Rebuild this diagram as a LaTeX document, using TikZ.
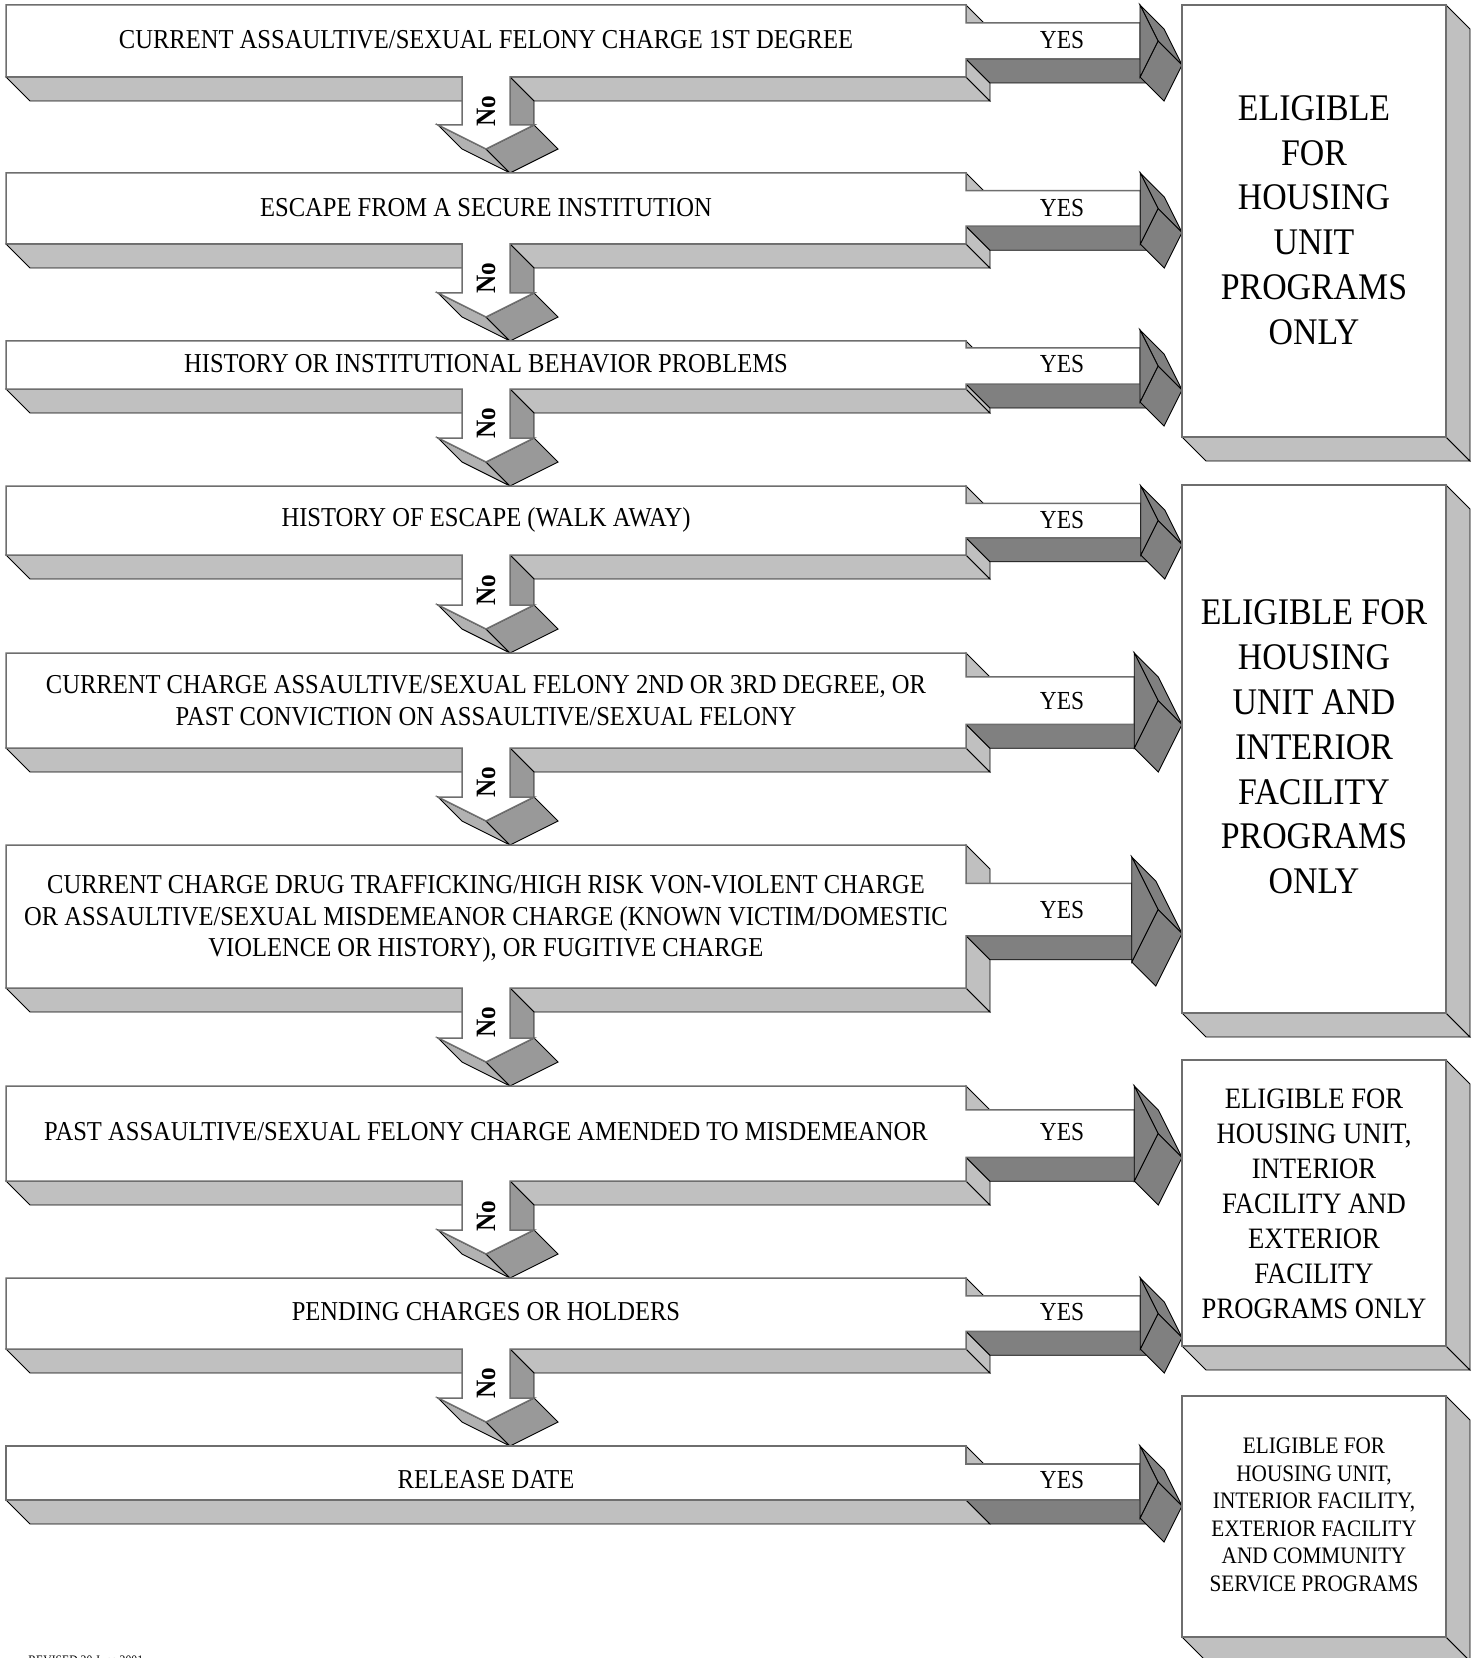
\documentclass[tikz,border=0pt]{standalone}
\usepackage{fontspec}
\setmainfont{Liberation Serif}[FakeStretch=0.9]
\definecolor{facelight}{HTML}{C0C0C0}
\definecolor{facemid}{HTML}{999999}
\definecolor{facewing}{HTML}{B2B2B2}
\definecolor{facedark}{HTML}{808080}
\definecolor{frontline}{HTML}{6E6E6E}
\tikzset{
  side/.style={draw=black, line width=0.45pt, line join=miter},
  front/.style={fill=white, draw=frontline, line width=0.75pt, line join=miter},
  rowtext/.style={font=\fontsize{13.65}{15.85}\selectfont, align=center, inner sep=0pt},
  yestext/.style={font=\fontsize{13}{15}\selectfont, inner sep=0pt},
  notext/.style={font=\bfseries\fontsize{14}{16}\selectfont, rotate=90, inner sep=0pt},
  bigtext/.style={font=\fontsize{18.8}{22.4}\selectfont, align=center, inner sep=0pt},
  midtext/.style={font=\fontsize{14.8}{17.5}\selectfont, align=center, inner sep=0pt},
  smalltext/.style={font=\fontsize{11.8}{13.75}\selectfont, align=center, inner sep=0pt},
}
% #1 box top, #2 box bottom, #3 arrow top barb, #4 arrow bottom barb, #5 next row top (0 = none)
\newcommand{\mkrow}[5]{%
  \pgfmathsetmacro\rT{#1}\pgfmathsetmacro\rB{#2}%
  \pgfmathsetmacro\rBf{#2+24}\pgfmathsetmacro\rTf{#1+24}%
  \pgfmathsetmacro\rH{#4-#3}%
  \pgfmathsetmacro\rsA{#3+0.25*\rH}\pgfmathsetmacro\rsB{#4-0.25*\rH}%
  \pgfmathsetmacro\rsAf{\rsA+24}\pgfmathsetmacro\rsBf{\rsB+24}%
  \pgfmathsetmacro\rbx{1158-0.25*\rH}\pgfmathsetmacro\rbxf{\rbx+24}%
  \pgfmathsetmacro\rty{(#3+#4)/2}\pgfmathsetmacro\rtyf{\rty+24}%
  \pgfmathsetmacro\raAf{#3+24}\pgfmathsetmacro\raBf{#4+24}%
  \ifnum#5>0
    \pgfmathsetmacro\ryb{#5-48}\pgfmathsetmacro\rybf{#5-24}%
    \path[side,fill=facelight] (6,\rB) -- (462,\rB) -- (486,\rBf) -- (30,\rBf) -- cycle;
    \path[side,fill=facelight] (510,\rB) -- (966,\rB) -- (990,\rBf) -- (534,\rBf) -- cycle;
    \path[side,fill=facemid] (510,\rB) -- (534,\rBf) -- (534,\rybf) -- (510,\ryb) -- cycle;
    \path[side,fill=facewing] (438,\ryb) -- (486,\rybf) -- (510,#5) -- (462,\rybf) -- cycle;
    \path[side,fill=facemid] (486,\rybf) -- (534,\ryb) -- (558,\rybf) -- (510,#5) -- cycle;
  \else
    \path[side,fill=facelight] (6,\rB) -- (966,\rB) -- (990,\rBf) -- (30,\rBf) -- cycle;
  \fi
  \path[side,fill=facelight] (966,\rT) -- (990,\rTf) -- (990,\rsAf) -- (966,\rsA) -- cycle;
  \ifdim\rsB pt<\rB pt
    \path[side,fill=facelight] (966,\rsB) -- (990,\rsBf) -- (990,\rBf) -- (966,\rB) -- cycle;
  \fi
  \path[side,fill=facedark] (966,\rsB) -- (\rbx,\rsB) -- (\rbxf,\rsBf) -- (990,\rsBf) -- cycle;
  \path[side,fill=facedark] (\rbx,#3) -- (1158,\rty) -- (1182,\rtyf) -- (\rbxf,\raAf) -- cycle;
  \path[side,fill=facedark] (\rbx,#4) -- (1158,\rty) -- (1182,\rtyf) -- (\rbxf,\raBf) -- cycle;
  \ifnum#5>0
    \path[front] (6,\rT) -- (966,\rT) -- (966,\rsA) -- (\rbx,\rsA) -- (\rbx,\rsB) -- (966,\rsB)
      -- (966,\rB) -- (510,\rB) -- (510,\ryb) -- (534,\ryb) -- (486,\rybf) -- (438,\ryb)
      -- (462,\ryb) -- (462,\rB) -- (6,\rB) -- cycle;
  \else
    \path[front] (6,\rT) -- (966,\rT) -- (966,\rsA) -- (\rbx,\rsA) -- (\rbx,\rsB) -- (966,\rsB)
      -- (966,\rB) -- (6,\rB) -- cycle;
  \fi
  \path[side,fill=facedark] (\rbx,#3) -- (1158,\rty) -- (\rbx,#4) -- cycle;
}
% right result boxes: #1 top, #2 bottom
\newcommand{\mkbox}[2]{%
  \pgfmathsetmacro\qB{#2}\pgfmathsetmacro\qBf{#2+24}\pgfmathsetmacro\qTf{#1+24}%
  \path[side,fill=facelight] (1182,\qB) -- (1446,\qB) -- (1470,\qBf) -- (1206,\qBf) -- cycle;
  \path[side,fill=facelight] (1446,#1) -- (1470,\qTf) -- (1470,\qBf) -- (1446,\qB) -- cycle;
  \path[front] (1182,#1) rectangle (1446,\qB);
}
\begin{document}
\begin{tikzpicture}[x=0.5pt,y=-0.5pt]
\useasboundingbox (0,0) rectangle (1477,1658);
\clip (0,0) rectangle (1477,1658);
\mkrow{5}{77}{5}{77}{173}
\mkrow{173}{244}{173}{244}{341}
\mkrow{341}{389}{330}{402}{486}
\mkrow{486}{555}{486}{555}{653}
\mkrow{653}{748}{653}{748}{845}
\mkrow{845}{988}{857}{962}{1086}
\mkrow{1086}{1181}{1086}{1181}{1278}
\mkrow{1278}{1349}{1278}{1349}{1446}
\mkrow{1446}{1500}{1446}{1518}{0}
\mkbox{5}{437}
\mkbox{485}{1013}
\mkbox{1060}{1346}
\mkbox{1396}{1637}
% row texts
\node[rowtext] (t1) at (486,40) {CURRENT ASSAULTIVE/SEXUAL FELONY CHARGE 1ST DEGREE};
\node[rowtext] (t2) at (486,208) {ESCAPE FROM A SECURE INSTITUTION};
\node[rowtext] (t3) at (486,364) {HISTORY OR INSTITUTIONAL BEHAVIOR PROBLEMS};
\node[rowtext] (t4) at (486,520) {HISTORY OF ESCAPE (WALK AWAY)};
\node[rowtext] (t5) at (486,701) {CURRENT CHARGE ASSAULTIVE/SEXUAL FELONY 2ND OR 3RD DEGREE, OR\\PAST CONVICTION ON ASSAULTIVE/SEXUAL FELONY};
\node[rowtext] (t6) at (486,919) {CURRENT CHARGE DRUG TRAFFICKING/HIGH RISK VON-VIOLENT CHARGE\\OR ASSAULTIVE/SEXUAL MISDEMEANOR CHARGE (KNOWN VICTIM/DOMESTIC\\VIOLENCE OR HISTORY), OR FUGITIVE CHARGE};
\node[rowtext] (t7) at (486,1132) {PAST ASSAULTIVE/SEXUAL FELONY CHARGE AMENDED TO MISDEMEANOR};
\node[rowtext] (t8) at (486,1312) {PENDING CHARGES OR HOLDERS};
\node[rowtext] (t9) at (486,1480) {RELEASE DATE};
% YES labels
\node[yestext] (y1) at (1062,40) {YES};
\node[yestext] (y2) at (1062,208) {YES};
\node[yestext] (y3) at (1062,364) {YES};
\node[yestext] (y4) at (1062,520) {YES};
\node[yestext] (y5) at (1062,701) {YES};
\node[yestext] (y6) at (1062,910) {YES};
\node[yestext] (y7) at (1062,1132) {YES};
\node[yestext] (y8) at (1062,1312) {YES};
\node[yestext] (y9) at (1062,1480) {YES};
% No labels
\node[notext] (n1) at (486,111) {No};
\node[notext] (n2) at (486,278) {No};
\node[notext] (n3) at (486,423) {No};
\node[notext] (n4) at (486,590) {No};
\node[notext] (n5) at (486,782) {No};
\node[notext] (n6) at (486,1022) {No};
\node[notext] (n7) at (486,1216) {No};
\node[notext] (n8) at (486,1383) {No};
% result texts
\node[bigtext] (ra) at (1314,220) {ELIGIBLE\\FOR\\HOUSING\\UNIT\\PROGRAMS\\ONLY};
\node[bigtext] (rb) at (1314,747) {ELIGIBLE FOR\\HOUSING\\UNIT AND\\INTERIOR\\FACILITY\\PROGRAMS\\ONLY};
\node[midtext] (rc) at (1314,1204) {ELIGIBLE FOR\\HOUSING UNIT,\\INTERIOR\\FACILITY AND\\EXTERIOR\\FACILITY\\PROGRAMS ONLY};
\node[smalltext] (rd) at (1314,1515) {ELIGIBLE FOR\\HOUSING UNIT,\\INTERIOR FACILITY,\\EXTERIOR FACILITY\\AND COMMUNITY\\SERVICE PROGRAMS};
\node[anchor=north west, inner sep=0pt, font=\fontsize{6.5}{8}\selectfont] (rev) at (28,1655) {REVISED 20 June 2001};
\end{tikzpicture}
\end{document}
